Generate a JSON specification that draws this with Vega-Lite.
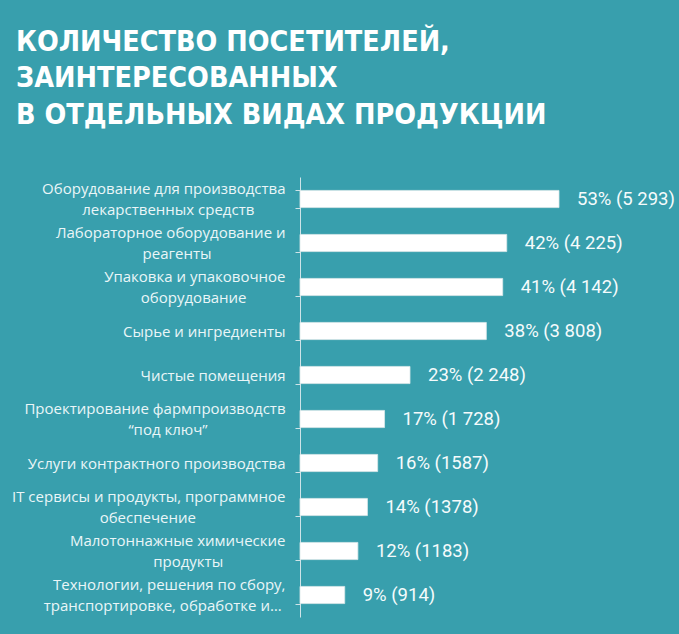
{
  "$schema": "https://vega.github.io/schema/vega-lite/v6.json",
  "autosize": "none",
  "width": 379,
  "height": 440,
  "padding": {"left": 300, "top": 177, "right": 0, "bottom": 17},
  "background": "#389FAD",
  "config": {"view": {"stroke": null}},
  "title": {
    "text": ["КОЛИЧЕСТВО ПОСЕТИТЕЛЕЙ,", "ЗАИНТЕРЕСОВАННЫХ", "В ОТДЕЛЬНЫХ ВИДАХ ПРОДУКЦИИ"],
    "anchor": "start",
    "frame": "group",
    "orient": "top",
    "baseline": "alphabetic",
    "offset": 54,
    "dx": -284,
    "dy": 36,
    "font": "Liberation Sans Narrow, DejaVu Sans Condensed, Roboto",
    "fontSize": 28.5,
    "fontWeight": "bold",
    "lineHeight": 36.5,
    "color": "#ffffff"
  },
  "data": {
    "values": [
      {"category": "Оборудование для производства|лекарственных средств", "pct": 53, "count": 5293, "label": "53% (5 293)"},
      {"category": "Лабораторное оборудование и|реагенты", "pct": 42, "count": 4225, "label": "42% (4 225)"},
      {"category": "Упаковка и упаковочное|оборудование", "pct": 41, "count": 4142, "label": "41% (4 142)"},
      {"category": "Сырье и ингредиенты", "pct": 38, "count": 3808, "label": "38% (3 808)"},
      {"category": "Чистые помещения", "pct": 23, "count": 2248, "label": "23% (2 248)"},
      {"category": "Проектирование фармпроизводств|“под ключ”", "pct": 17, "count": 1728, "label": "17% (1 728)"},
      {"category": "Услуги контрактного производства", "pct": 16, "count": 1587, "label": "16% (1587)"},
      {"category": "IT сервисы и продукты, программное|обеспечение", "pct": 14, "count": 1378, "label": "14% (1378)"},
      {"category": "Малотоннажные химические|продукты", "pct": 12, "count": 1183, "label": "12% (1183)"},
      {"category": "Технологии, решения  по сбору,|транспортировке, обработке и…", "pct": 9, "count": 914, "label": "9% (914)"}
    ]
  },
  "encoding": {
    "y": {
      "field": "category",
      "type": "nominal",
      "sort": null,
      "scale": {"paddingInner": 0.61, "paddingOuter": 0.305},
      "axis": {
        "title": null,
        "labelExpr": "isValid(datum.value) ? (indexof(datum.value, '|') >= 0 ? [split(datum.value, '|')[0], pad(split(datum.value, '|')[1], length(split(datum.value, '|')[0]), '\u00a0') + '\u200c'] : datum.value) : ''",
        "labelFont": "Open Sans",
        "labelFontSize": 15,
        "labelLineHeight": 21,
        "labelColor": "#eaf6f8",
        "labelLimit": 300,
        "labelAlign": "right",
        "labelPadding": 10,
        "labelOffset": {"condition": {"test": "isValid(datum.value) && indexof(datum.value, '|') >= 0", "value": -10.5}, "value": 0},
        "tickBand": "extent",
        "tickSize": 5,
        "tickColor": "#cfe4e8",
        "domainColor": "#cfe4e8",
        "grid": false
      }
    },
    "x": {
      "field": "count",
      "type": "quantitative",
      "scale": {"domain": [0, 7745]},
      "axis": null
    }
  },
  "layer": [
    {"mark": {"type": "bar", "color": "#ffffff", "stroke": "#dbe8ea", "strokeWidth": 0.8}},
    {
      "mark": {"type": "text", "align": "left", "baseline": "middle", "dx": 18, "font": "Roboto", "fontSize": 18.5, "color": "#f5fbfc"},
      "encoding": {"text": {"field": "label"}}
    }
  ]
}
